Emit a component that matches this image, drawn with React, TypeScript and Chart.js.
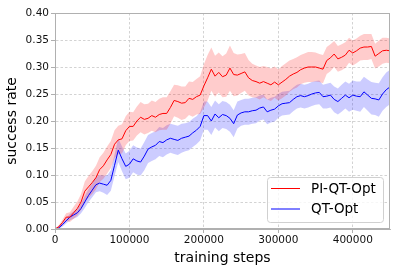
import React, { useEffect, useRef } from "react";
import { Chart, registerables } from "chart.js";
Chart.register(...registerables);

const steps = [
  0, 5000, 10000, 15000, 20000, 25000, 30000, 35000, 40000, 45000,
  50000, 55000, 60000, 65000, 70000, 75000, 80000, 85000, 90000, 95000,
  100000, 105000, 110000, 115000, 120000, 125000, 130000, 135000, 140000, 145000,
  150000, 155000, 160000, 165000, 170000, 175000, 180000, 185000, 190000, 195000,
  200000, 205000, 210000, 215000, 220000, 225000, 230000, 235000, 240000, 245000,
  250000, 255000, 260000, 265000, 270000, 275000, 280000, 285000, 290000, 295000,
  300000, 305000, 310000, 315000, 320000, 325000, 330000, 335000, 340000, 345000,
  350000, 355000, 360000, 365000, 370000, 375000, 380000, 385000, 390000, 395000,
  400000, 405000, 410000, 415000, 420000, 425000, 430000, 435000, 440000, 445000,
  450000,
];

const piQtOptMean = [
  0, 0.004, 0.012, 0.022, 0.022, 0.03, 0.038, 0.05, 0.07, 0.078,
  0.086, 0.095, 0.11, 0.117, 0.128, 0.138, 0.157, 0.165, 0.167, 0.182,
  0.19, 0.19, 0.2, 0.207, 0.203, 0.205, 0.21, 0.207, 0.212, 0.214,
  0.214, 0.225, 0.238, 0.236, 0.233, 0.234, 0.242, 0.24, 0.245, 0.248,
  0.265, 0.28, 0.296, 0.283, 0.29, 0.282, 0.285, 0.298, 0.286, 0.285,
  0.288, 0.291, 0.28, 0.275, 0.273, 0.27, 0.273, 0.27, 0.267, 0.272,
  0.267, 0.272, 0.277, 0.283, 0.287, 0.29, 0.295, 0.298, 0.3, 0.3,
  0.3, 0.298, 0.296, 0.312, 0.317, 0.324, 0.315, 0.318, 0.322, 0.331,
  0.326, 0.33, 0.335, 0.337, 0.337, 0.338, 0.32, 0.325, 0.33, 0.331,
  0.33,
];

const piQtOptSpread = [
  0.001, 0.003, 0.005, 0.007, 0.009, 0.011, 0.013, 0.015, 0.018, 0.02,
  0.021, 0.022, 0.023, 0.024, 0.025, 0.025, 0.026, 0.026, 0.027, 0.027,
  0.027, 0.026, 0.027, 0.028, 0.028, 0.027, 0.028, 0.028, 0.029, 0.03,
  0.03, 0.03, 0.029, 0.03, 0.031, 0.03, 0.031, 0.032, 0.033, 0.035,
  0.04, 0.042, 0.04, 0.038, 0.037, 0.038, 0.04, 0.042, 0.04, 0.038,
  0.036, 0.035, 0.033, 0.031, 0.03, 0.03, 0.029, 0.03, 0.03, 0.029,
  0.029, 0.03, 0.03, 0.029, 0.028, 0.028, 0.027, 0.027, 0.028, 0.028,
  0.027, 0.026, 0.026, 0.025, 0.025, 0.024, 0.024, 0.024, 0.024, 0.023,
  0.023, 0.023, 0.023, 0.024, 0.024, 0.023, 0.023, 0.024, 0.024, 0.023,
  0.023,
];

const qtOptMean = [
  0, 0.002, 0.008, 0.015, 0.022, 0.026, 0.03, 0.038, 0.05, 0.062,
  0.072, 0.082, 0.085, 0.083, 0.081, 0.09, 0.118, 0.146, 0.13, 0.116,
  0.12, 0.13, 0.126, 0.124, 0.135, 0.148, 0.152, 0.155, 0.162, 0.16,
  0.165, 0.168, 0.166, 0.164, 0.168, 0.17, 0.172, 0.178, 0.183, 0.19,
  0.21, 0.21, 0.2, 0.213, 0.206, 0.212, 0.21, 0.205, 0.195, 0.211,
  0.215, 0.217, 0.217, 0.219, 0.22, 0.224, 0.226, 0.217, 0.22, 0.222,
  0.228, 0.232, 0.233, 0.234, 0.24, 0.245, 0.247, 0.245, 0.247, 0.25,
  0.252, 0.253, 0.245, 0.246, 0.248, 0.24, 0.236, 0.242, 0.248, 0.243,
  0.248, 0.246, 0.245, 0.254, 0.248, 0.242, 0.241, 0.239, 0.25, 0.258,
  0.263,
];

const qtOptSpread = [
  0.001, 0.002, 0.004, 0.005, 0.006, 0.007, 0.008, 0.009, 0.011, 0.012,
  0.013, 0.014, 0.015, 0.016, 0.018, 0.019, 0.02, 0.022, 0.023, 0.024,
  0.025, 0.025, 0.025, 0.025, 0.026, 0.026, 0.026, 0.026, 0.027, 0.027,
  0.027, 0.027, 0.027, 0.027, 0.027, 0.026, 0.026, 0.026, 0.026, 0.026,
  0.026, 0.026, 0.026, 0.025, 0.025, 0.025, 0.025, 0.025, 0.025, 0.025,
  0.024, 0.024, 0.024, 0.024, 0.024, 0.023, 0.023, 0.023, 0.023, 0.023,
  0.022, 0.022, 0.022, 0.022, 0.022, 0.022, 0.022, 0.022, 0.022, 0.022,
  0.022, 0.022, 0.022, 0.023, 0.023, 0.024, 0.024, 0.025, 0.025, 0.026,
  0.027, 0.027, 0.028, 0.028, 0.029, 0.03, 0.03, 0.031, 0.031, 0.032,
  0.032,
];

const xTickValues = [0, 100000, 200000, 300000, 400000];
const yTickValues = [0, 0.05, 0.1, 0.15, 0.2, 0.25, 0.3, 0.35, 0.4];
const seriesLabels = ["PI-QT-Opt", "QT-Opt"];
const seriesColors = ["#ff0000", "#0000ff"];
const bandColors = ["rgba(255,0,0,0.2)", "rgba(0,0,255,0.2)"];

const FONT = '"DejaVu Sans", sans-serif';

export default function App() {
  const ref = useRef<HTMLCanvasElement>(null);
  useEffect(() => {
    if (!ref.current) return;
    const pts = (vals: number[]) => steps.map((s, i) => ({ x: s, y: vals[i] }));
    const upper = (m: number[], sd: number[]) => m.map((v, i) => v + sd[i]);
    const lower = (m: number[], sd: number[]) => m.map((v, i) => v - sd[i]);

    const band = (data: number[], fill: any, color: string) => ({
      data: pts(data),
      borderWidth: 0,
      borderColor: "rgba(0,0,0,0)",
      backgroundColor: color,
      pointRadius: 0,
      fill,
      order: 2,
      tension: 0,
    });

    const framePlugin = {
      id: "frame",
      afterDatasetsDraw(chart: any) {
        const { ctx, chartArea: ca } = chart;
        ctx.save();
        ctx.strokeStyle = "#b0b0b0";
        ctx.lineWidth = 1;
        ctx.strokeRect(Math.round(ca.left) + 0.5, Math.round(ca.top) + 0.5, Math.round(ca.right - ca.left) - 1, Math.round(ca.bottom - ca.top) - 1);
        ctx.restore();
      },
    };

    const legendPlugin = {
      id: "innerLegend",
      afterDraw(chart: any) {
        const { ctx, chartArea: ca } = chart;
        const w = 116, h = 45;
        const x0 = ca.right - 7 - w;
        const y0 = ca.bottom - 7 - h;
        ctx.save();
        ctx.beginPath();
        (ctx as any).roundRect(x0 + 0.5, y0 + 0.5, w, h, 3);
        ctx.fillStyle = "rgba(255,255,255,0.8)";
        ctx.fill();
        ctx.strokeStyle = "#d0d0d0";
        ctx.lineWidth = 1;
        ctx.stroke();
        ctx.font = `13.5px ${FONT}`;
        ctx.textBaseline = "middle";
        ctx.textAlign = "left";
        seriesLabels.forEach((lab, i) => {
          const y = y0 + 11.5 + i * 20.5;
          ctx.beginPath();
          ctx.strokeStyle = seriesColors[i];
          ctx.lineWidth = 1;
          ctx.moveTo(x0 + 4, y);
          ctx.lineTo(x0 + 33, y);
          ctx.stroke();
          ctx.fillStyle = "#000";
          ctx.fillText(lab, x0 + 44, y + 0.5);
        });
        ctx.restore();
      },
    };

    const chart = new Chart(ref.current, {
      type: "line",
      data: {
        datasets: [
          {
            label: seriesLabels[0],
            data: pts(piQtOptMean),
            borderColor: seriesColors[0],
            borderWidth: 1,
            pointRadius: 0,
            fill: false,
            order: 0,
            tension: 0,
          },
          {
            label: seriesLabels[1],
            data: pts(qtOptMean),
            borderColor: seriesColors[1],
            borderWidth: 1,
            pointRadius: 0,
            fill: false,
            order: 0,
            tension: 0,
          },
          band(upper(piQtOptMean, piQtOptSpread), "+1", bandColors[0]),
          band(lower(piQtOptMean, piQtOptSpread), false, bandColors[0]),
          band(upper(qtOptMean, qtOptSpread), "+1", bandColors[1]),
          band(lower(qtOptMean, qtOptSpread), false, bandColors[1]),
        ] as any,
      },
      options: {
        animation: false,
        responsive: false,
        layout: { padding: { top: 13, right: 7, left: 0, bottom: 0 } },
        plugins: {
          legend: { display: false },
          tooltip: { enabled: false },
        },
        scales: {
          x: {
            type: "linear",
            min: 0,
            max: 450000,
            afterBuildTicks: (s: any) => {
              s.ticks = xTickValues.map((v) => ({ value: v }));
            },
            afterFit: (s: any) => {
              s.height = 42;
            },
            ticks: {
              autoSkip: false,
              maxRotation: 0,
              color: "#111",
              font: { family: FONT, size: 10.5 },
              padding: 1,
              callback: (v: any) => String(v),
            },
            grid: {
              color: "#c8c8c8",
              lineWidth: 0.8,
              tickColor: "#9a9a9a",
              tickLength: 4,
              drawTicks: true,
            },
            border: { display: true, color: "#b0b0b0", width: 1, dash: [2.5, 2] },
            title: {
              display: true,
              text: "training steps",
              color: "#000",
              font: { family: FONT, size: 14 },
              padding: { top: 0, bottom: 4 },
            },
          },
          y: {
            type: "linear",
            min: 0,
            max: 0.4,
            afterBuildTicks: (s: any) => {
              s.ticks = yTickValues.map((v) => ({ value: v }));
            },
            afterFit: (s: any) => {
              s.width = 55;
            },
            ticks: {
              autoSkip: false,
              color: "#111",
              font: { family: FONT, size: 10.5 },
              padding: 2,
              callback: (v: any) => Number(v).toFixed(2),
            },
            grid: {
              color: "#c8c8c8",
              lineWidth: 0.8,
              tickColor: "#9a9a9a",
              tickLength: 4,
            },
            border: { display: true, color: "#b0b0b0", width: 1, dash: [2.5, 2] },
            title: {
              display: true,
              text: "success rate",
              color: "#000",
              font: { family: FONT, size: 14 },
              padding: { top: 4, bottom: 0 },
            },
          },
        },
      } as any,
      plugins: [framePlugin, legendPlugin],
    });
    return () => chart.destroy();
  }, []);

  return (
    <div style={{ position: "fixed", left: 0, top: 0, width: 397, height: 271, background: "#fff" }}>
      <canvas ref={ref} width={397} height={271} style={{ display: "block", width: 397, height: 271 }} />
    </div>
  );
}
